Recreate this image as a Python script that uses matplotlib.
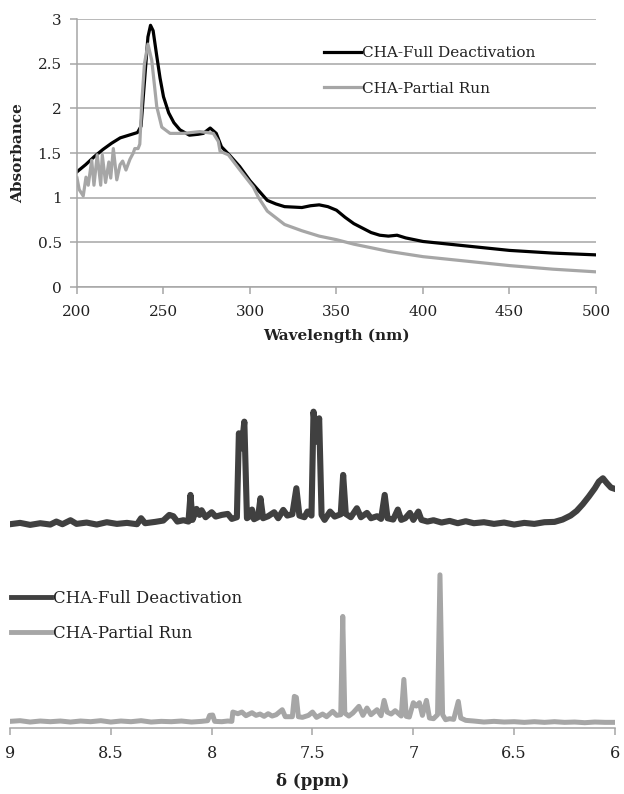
"""
UV-vis absorbance and 1H NMR spectra, CHA full deactivation vs partial run
"""

import matplotlib

matplotlib.use("Agg")
import matplotlib.pyplot as plt

plt.rcParams["font.family"] = ["DejaVu Serif"]

# UV-vis, CHA-Full Deactivation
wl_full = [200, 205, 210, 215, 220, 225, 230, 235, 237, 239, 241, 242.5, 244,
           246, 248, 250, 253, 256, 259.5, 265, 270, 273, 277, 280.5, 283.5,
           288, 294, 300, 305, 310, 315, 320, 330, 335, 340, 345, 350, 355,
           360, 365, 370, 375, 380, 385, 390, 395, 400, 420, 450, 475, 500]
abs_full = [1.29, 1.37, 1.46, 1.54, 1.61, 1.67, 1.70, 1.73, 1.80, 2.30, 2.80,
            2.93, 2.87, 2.60, 2.34, 2.13, 1.95, 1.84, 1.76, 1.70, 1.71, 1.72,
            1.78, 1.72, 1.57, 1.48, 1.35, 1.19, 1.08, 0.97, 0.93, 0.90, 0.89,
            0.91, 0.92, 0.90, 0.86, 0.78, 0.71, 0.66, 0.61, 0.58, 0.57, 0.58,
            0.55, 0.53, 0.51, 0.47, 0.41, 0.38, 0.36]

# UV-vis, CHA-Partial Run
wl_part = [200, 201.3, 203.6, 205.2, 206.5, 208.5, 209.8, 211.7, 213.7, 214.6,
           216.5, 218.4, 219.5, 221, 223, 224.9, 226.4, 228.3, 230.6, 232.5,
           233.4, 235.3, 236.3, 237.4, 239, 241, 243.2, 246.1, 249, 253.8,
           261.4, 271, 278.8, 281.7, 282.7, 287.5, 294.2, 301.9, 305, 310,
           320, 330, 340, 350, 360, 370, 380, 400, 420, 450, 475, 500]
abs_part = [1.22, 1.09, 1.02, 1.23, 1.14, 1.42, 1.14, 1.48, 1.14, 1.48, 1.17,
            1.40, 1.22, 1.55, 1.20, 1.37, 1.41, 1.31, 1.43, 1.50, 1.55, 1.55,
            1.60, 2.05, 2.50, 2.72, 2.54, 2.02, 1.79, 1.72, 1.72, 1.74, 1.72,
            1.63, 1.52, 1.48, 1.31, 1.12, 1.00, 0.85, 0.70, 0.63, 0.57, 0.53,
            0.48, 0.44, 0.40, 0.34, 0.30, 0.24, 0.20, 0.17]

# 1H NMR, CHA-Full Deactivation (chemical shift, intensity a.u.)
ppm_full = [9.00, 8.95, 8.90, 8.85, 8.80, 8.77, 8.74, 8.70, 8.67, 8.62, 8.57,
            8.52, 8.47, 8.42, 8.37, 8.35, 8.33, 8.28, 8.24, 8.21, 8.19, 8.17,
            8.14, 8.115, 8.105, 8.095, 8.075, 8.06, 8.05, 8.03, 8.00, 7.98,
            7.95, 7.92, 7.90, 7.875, 7.865, 7.852, 7.838, 7.825, 7.81, 7.80,
            7.79, 7.77, 7.758, 7.745, 7.72, 7.69, 7.67, 7.645, 7.625, 7.60,
            7.58, 7.565, 7.54, 7.525, 7.505, 7.495, 7.48, 7.467, 7.455, 7.44,
            7.413, 7.39, 7.36, 7.348, 7.335, 7.31, 7.28, 7.26, 7.23, 7.21,
            7.18, 7.16, 7.142, 7.128, 7.10, 7.077, 7.06, 7.04, 7.017, 7.00,
            6.975, 6.96, 6.93, 6.90, 6.86, 6.82, 6.78, 6.74, 6.70, 6.65, 6.60,
            6.55, 6.50, 6.45, 6.40, 6.35, 6.30, 6.26, 6.22, 6.19, 6.16, 6.13,
            6.10, 6.08, 6.06, 6.04, 6.02, 6.00]
int_full = [61.2, 61.6, 61.0, 61.5, 61.1, 62.0, 61.2, 62.4, 61.3, 61.7, 61.1,
            61.8, 61.3, 61.6, 61.2, 63.0, 61.5, 61.9, 62.3, 64.0, 63.6, 62.0,
            62.4, 62.0, 70.0, 62.5, 65.8, 64.0, 65.4, 63.3, 64.8, 63.5, 64.0,
            64.3, 62.8, 63.3, 88.5, 84.0, 92.0, 63.0, 63.6, 65.6, 62.7, 63.3,
            69.0, 63.0, 63.6, 64.8, 63.0, 65.5, 63.8, 64.2, 72.0, 63.8, 63.3,
            65.0, 63.8, 95.0, 86.0, 93.0, 64.0, 62.5, 65.0, 63.5, 64.2, 76.0,
            64.3, 63.3, 66.0, 63.3, 64.6, 63.0, 63.6, 62.8, 70.0, 63.0, 62.6,
            65.6, 62.5, 63.0, 64.6, 62.5, 65.0, 62.5, 62.0, 62.4, 61.7, 62.2,
            61.5, 62.1, 61.5, 61.8, 61.3, 61.7, 61.1, 61.6, 61.3, 61.8, 61.9,
            62.6, 63.8, 65.2, 67.2, 69.5, 72.0, 74.0, 75.0, 73.5, 72.2, 71.8]

# 1H NMR, CHA-Partial Run
ppm_part = [9.00, 8.95, 8.90, 8.85, 8.80, 8.75, 8.70, 8.65, 8.60, 8.55, 8.50,
            8.45, 8.40, 8.35, 8.30, 8.25, 8.20, 8.15, 8.10, 8.05, 8.02, 8.01,
            7.995, 7.985, 7.95, 7.92, 7.90, 7.895, 7.87, 7.85, 7.83, 7.80,
            7.78, 7.76, 7.74, 7.72, 7.70, 7.68, 7.65, 7.635, 7.60, 7.59, 7.58,
            7.57, 7.55, 7.52, 7.50, 7.48, 7.45, 7.43, 7.40, 7.38, 7.36, 7.35,
            7.34, 7.32, 7.30, 7.27, 7.25, 7.23, 7.21, 7.18, 7.16, 7.145, 7.13,
            7.11, 7.09, 7.06, 7.047, 7.035, 7.02, 7.00, 6.985, 6.97, 6.955,
            6.935, 6.92, 6.90, 6.88, 6.868, 6.855, 6.84, 6.82, 6.80, 6.777,
            6.765, 6.74, 6.70, 6.65, 6.60, 6.55, 6.50, 6.45, 6.40, 6.35, 6.30,
            6.25, 6.20, 6.15, 6.10, 6.05, 6.00]
int_part = [2.0, 2.2, 1.8, 2.1, 1.9, 2.1, 1.8, 2.1, 1.9, 2.2, 1.8, 2.1, 1.9,
            2.2, 1.8, 2.0, 1.9, 2.1, 1.8, 2.0, 2.2, 3.8, 3.9, 2.0, 1.9, 2.1,
            2.0, 4.8, 4.3, 4.8, 3.7, 4.6, 3.8, 4.2, 3.5, 4.3, 3.6, 4.0, 5.5,
            3.4, 3.4, 9.5, 9.2, 3.4, 3.2, 3.8, 4.8, 3.2, 4.2, 3.4, 5.0, 3.8,
            4.0, 33.5, 4.5, 3.6, 4.5, 6.5, 3.8, 6.0, 4.0, 5.5, 3.7, 8.3, 4.8,
            4.2, 5.2, 3.6, 14.6, 3.5, 3.3, 7.6, 6.6, 7.6, 3.8, 8.3, 3.0, 2.8,
            4.0, 46.0, 4.0, 2.5, 2.8, 2.6, 8.0, 3.0, 2.3, 2.1, 1.8, 2.0, 1.8,
            1.9, 1.7, 1.9, 1.7, 1.9, 1.7, 1.8, 1.6, 1.8, 1.7, 1.7]

labels = ["CHA-Full Deactivation", "CHA-Partial Run"]
wl_ticks = [200, 250, 300, 350, 400, 450, 500]
abs_ticks = [0, 0.5, 1, 1.5, 2, 2.5, 3]
ppm_ticks = [9, 8.5, 8, 7.5, 7, 6.5, 6]

axis_gray = "#a6a6a6"
text_col = "#222222"

fig = plt.figure(figsize=(6.24, 7.94), dpi=100)

# --- UV-vis panel ---
ax1 = fig.add_axes([0.1234, 0.6385, 0.8317, 0.3375])
ax1.plot(wl_full, abs_full, color="black", lw=2.3, label=labels[0],
         solid_joinstyle="round")
ax1.plot(wl_part, abs_part, color="#a6a6a6", lw=2.3, label=labels[1],
         solid_joinstyle="round")
ax1.set_xlim(200, 500)
ax1.set_ylim(0, 3)
ax1.set_xticks(wl_ticks)
ax1.set_yticks(abs_ticks)
ax1.set_yticklabels([f"{t:g}" for t in abs_ticks])
ax1.yaxis.grid(True, color=axis_gray, lw=1.1)
ax1.set_axisbelow(True)
for side in ["top", "right"]:
    ax1.spines[side].set_visible(False)
for side in ["left", "bottom"]:
    ax1.spines[side].set_color(axis_gray)
    ax1.spines[side].set_linewidth(1.1)
ax1.tick_params(axis="both", colors=axis_gray, labelcolor=text_col,
                labelsize=11, length=5, width=1.1)
ax1.tick_params(axis="x", pad=8)
ax1.tick_params(axis="y", pad=6)
ax1.set_xlabel("Wavelength (nm)", fontsize=11, fontweight="bold",
               color=text_col, labelpad=7)
ax1.set_ylabel("Absorbance", fontsize=11, fontweight="bold",
               color=text_col, labelpad=9)
ax1.legend(loc="upper left", bbox_to_anchor=(0.45, 0.95), frameon=False,
           fontsize=11, handlelength=2.4, handletextpad=0.1,
           labelspacing=1.4, labelcolor=text_col)

# --- NMR panel ---
ax2 = fig.add_axes([0.016, 0.0831, 0.9696, 0.4194])
ax2.plot(ppm_full, int_full, color="#404040", lw=4.4, label=labels[0],
         solid_joinstyle="round")
ax2.plot(ppm_part, int_part, color="#a6a6a6", lw=3.6, label=labels[1],
         solid_joinstyle="round")
ax2.set_xlim(9, 6)
ax2.set_ylim(0, 100)
ax2.set_xticks(ppm_ticks)
ax2.set_xticklabels([f"{t:g}" for t in ppm_ticks])
ax2.set_yticks([])
for side in ["top", "right", "left"]:
    ax2.spines[side].set_visible(False)
ax2.spines["bottom"].set_color(axis_gray)
ax2.spines["bottom"].set_linewidth(1.1)
ax2.tick_params(axis="x", colors=axis_gray, labelcolor=text_col,
                labelsize=11.5, length=5, width=1.1, pad=7)
ax2.set_xlabel("δ (ppm)", fontsize=12, fontweight="bold", color=text_col,
               labelpad=8)
leg = ax2.legend(loc="upper left", bbox_to_anchor=(-0.023, 0.46),
                 frameon=False, fontsize=12, handlelength=2.4,
                 handletextpad=0.1, labelspacing=1.1, labelcolor=text_col)
for line in leg.get_lines():
    line.set_linewidth(3.5)

fig.savefig("out.png", dpi=100)
